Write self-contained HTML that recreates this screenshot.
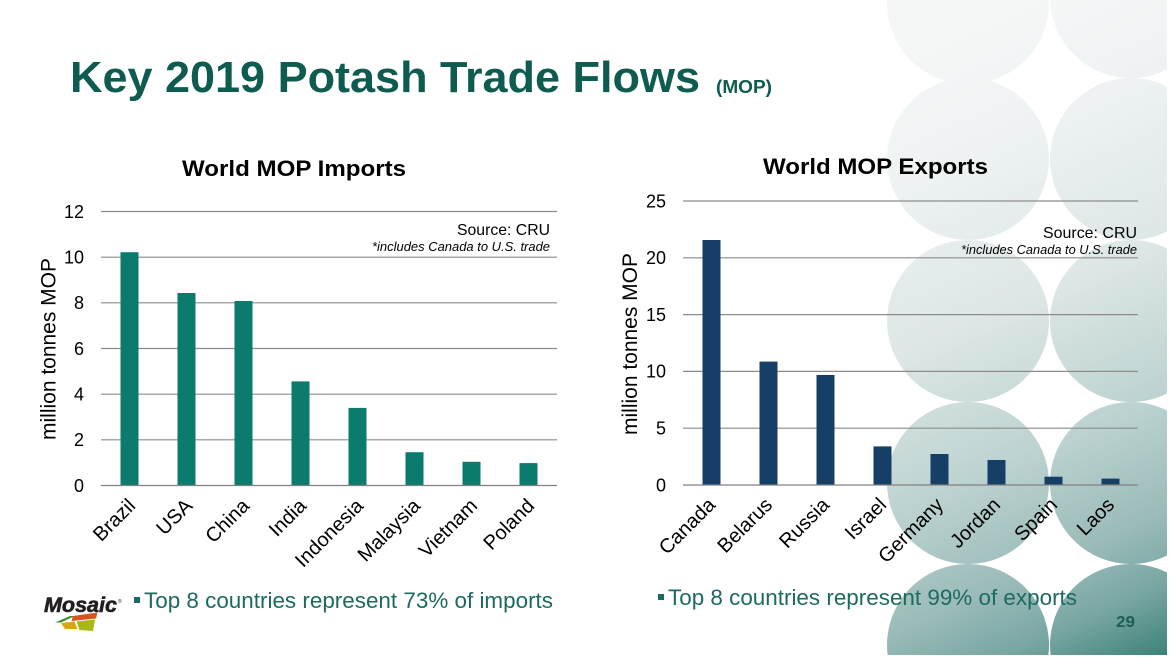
<!DOCTYPE html>
<html>
<head>
<meta charset="utf-8">
<style>
  html,body{margin:0;padding:0;background:#fff;width:1173px;height:661px;overflow:hidden;}
  svg{display:block;}
  text{font-family:"Liberation Sans", Arial, sans-serif;}
</style>
</head>
<body>
<svg width="1173" height="661" viewBox="0 0 1173 661" xmlns="http://www.w3.org/2000/svg">
  <defs>
    <linearGradient id="cg" gradientUnits="userSpaceOnUse" x1="900" y1="60" x2="1167" y2="655">
      <stop offset="0" stop-color="#f5f7f7"/>
      <stop offset="0.18" stop-color="#eef2f2"/>
      <stop offset="0.41" stop-color="#dde7e6"/>
      <stop offset="0.63" stop-color="#bdd3d1"/>
      <stop offset="0.8" stop-color="#9abbb8"/>
      <stop offset="0.9" stop-color="#78a6a1"/>
      <stop offset="1" stop-color="#3c8279"/>
    </linearGradient>
  </defs>

  <rect x="0" y="0" width="1173" height="661" fill="#ffffff"/>

  <!-- background circles (pre-clipped to the slide area) -->
  <g fill="url(#cg)">
    <path d="M 887.06 0 A 81 81 0 1 0 1048.94 0 Z"/>
    <path d="M 1050.06 0 A 81 81 0 0 0 1167 69.56 L 1167 0 Z"/>
    <circle cx="968" cy="159" r="81"/>
    <path d="M 1167 86.44 A 81 81 0 1 0 1167 231.56 Z"/>
    <circle cx="968" cy="321" r="81"/>
    <path d="M 1167 248.44 A 81 81 0 1 0 1167 393.56 Z"/>
    <circle cx="968" cy="483" r="81"/>
    <path d="M 1167 410.44 A 81 81 0 1 0 1167 555.56 Z"/>
    <path d="M 887.62 655 A 81 81 0 1 1 1048.38 655 Z"/>
    <path d="M 1167 572.44 A 81 81 0 0 0 1050.62 655 L 1167 655 Z"/>
  </g>

  <!-- Title -->
  <text x="70" y="92" font-size="44" font-weight="bold" fill="#0e5b4f" textLength="630" lengthAdjust="spacingAndGlyphs">Key 2019 Potash Trade Flows</text>
  <text x="716" y="93" font-size="18" font-weight="bold" fill="#0e5b4f" textLength="56" lengthAdjust="spacingAndGlyphs">(MOP)</text>

  <!-- ============ LEFT CHART ============ -->
  <text x="182" y="176" font-size="22" font-weight="bold" fill="#000" textLength="224" lengthAdjust="spacingAndGlyphs">World MOP Imports</text>

  <g stroke="#8c8c8c" stroke-width="1.2">
    <line x1="101" y1="211.5" x2="557" y2="211.5"/>
    <line x1="101" y1="257.2" x2="557" y2="257.2"/>
    <line x1="101" y1="302.8" x2="557" y2="302.8"/>
    <line x1="101" y1="348.5" x2="557" y2="348.5"/>
    <line x1="101" y1="394.2" x2="557" y2="394.2"/>
    <line x1="101" y1="439.8" x2="557" y2="439.8"/>
  </g>

  <g fill="#0b7b6e">
    <rect x="120.5" y="252.2" width="18" height="233.3"/>
    <rect x="177.5" y="293.0" width="18" height="192.5"/>
    <rect x="234.5" y="301.0" width="18" height="184.5"/>
    <rect x="291.5" y="381.4" width="18" height="104.1"/>
    <rect x="348.5" y="407.9" width="18" height="77.6"/>
    <rect x="405.5" y="452.2" width="18" height="33.3"/>
    <rect x="462.5" y="461.8" width="18" height="23.7"/>
    <rect x="519.5" y="463.1" width="18" height="22.4"/>
  </g>
  <line x1="101" y1="485.5" x2="557" y2="485.5" stroke="#808080" stroke-width="1.3"/>

  <g font-size="18" fill="#000" text-anchor="end">
    <text x="84" y="217.8">12</text>
    <text x="84" y="263.5">10</text>
    <text x="84" y="309.1">8</text>
    <text x="84" y="354.8">6</text>
    <text x="84" y="400.5">4</text>
    <text x="84" y="446.1">2</text>
    <text x="84" y="491.8">0</text>
  </g>

  <text transform="translate(55.5,349) rotate(-90)" font-size="21" text-anchor="middle" fill="#000" textLength="182" lengthAdjust="spacingAndGlyphs">million tonnes MOP</text>

  <text x="550" y="235" font-size="16" text-anchor="end" fill="#000" textLength="93" lengthAdjust="spacingAndGlyphs">Source: CRU</text>
  <text x="550" y="251" font-size="13" font-style="italic" text-anchor="end" fill="#000" textLength="178" lengthAdjust="spacingAndGlyphs">*includes Canada to U.S. trade</text>

  <g font-size="20" fill="#000" text-anchor="end">
    <text transform="translate(136.5,507) rotate(-45)">Brazil</text>
    <text transform="translate(193.5,507) rotate(-45)">USA</text>
    <text transform="translate(250.5,507) rotate(-45)">China</text>
    <text transform="translate(307.5,507) rotate(-45)">India</text>
    <text transform="translate(364.5,507) rotate(-45)">Indonesia</text>
    <text transform="translate(421.5,507) rotate(-45)">Malaysia</text>
    <text transform="translate(478.5,507) rotate(-45)">Vietnam</text>
    <text transform="translate(535.5,507) rotate(-45)">Poland</text>
  </g>

  <!-- ============ RIGHT CHART ============ -->
  <text x="763" y="174" font-size="22" font-weight="bold" fill="#000" textLength="225" lengthAdjust="spacingAndGlyphs">World MOP Exports</text>

  <g stroke="#8c8c8c" stroke-width="1.2">
    <line x1="683" y1="201" x2="1138" y2="201"/>
    <line x1="683" y1="257.8" x2="1138" y2="257.8"/>
    <line x1="683" y1="314.6" x2="1138" y2="314.6"/>
    <line x1="683" y1="371.4" x2="1138" y2="371.4"/>
    <line x1="683" y1="428.2" x2="1138" y2="428.2"/>
  </g>

  <g fill="#153f66">
    <rect x="702.5" y="240.0" width="18" height="245.0"/>
    <rect x="759.5" y="361.6" width="18" height="123.4"/>
    <rect x="816.5" y="375.0" width="18" height="110.0"/>
    <rect x="873.5" y="446.4" width="18" height="38.6"/>
    <rect x="930.5" y="454.0" width="18" height="31.0"/>
    <rect x="987.5" y="460.0" width="18" height="25.0"/>
    <rect x="1044.5" y="476.7" width="18" height="8.3"/>
    <rect x="1101.5" y="478.6" width="18" height="6.4"/>
  </g>
  <line x1="683" y1="485" x2="1138" y2="485" stroke="#808080" stroke-width="1.3"/>

  <g font-size="18" fill="#000" text-anchor="end">
    <text x="666" y="207.3">25</text>
    <text x="666" y="264.1">20</text>
    <text x="666" y="320.9">15</text>
    <text x="666" y="377.7">10</text>
    <text x="666" y="434.5">5</text>
    <text x="666" y="491.3">0</text>
  </g>

  <text transform="translate(637,344) rotate(-90)" font-size="21" text-anchor="middle" fill="#000" textLength="182" lengthAdjust="spacingAndGlyphs">million tonnes MOP</text>

  <text x="1137" y="238" font-size="16" text-anchor="end" fill="#000" textLength="94" lengthAdjust="spacingAndGlyphs">Source: CRU</text>
  <text x="1137" y="254" font-size="13" font-style="italic" text-anchor="end" fill="#000" textLength="176" lengthAdjust="spacingAndGlyphs">*includes Canada to U.S. trade</text>

  <g font-size="20" fill="#000" text-anchor="end">
    <text transform="translate(716.5,506) rotate(-45)">Canada</text>
    <text transform="translate(773.5,506) rotate(-45)">Belarus</text>
    <text transform="translate(830.5,506) rotate(-45)">Russia</text>
    <text transform="translate(887.5,506) rotate(-45)">Israel</text>
    <text transform="translate(944.5,506) rotate(-45)">Germany</text>
    <text transform="translate(1001.5,506) rotate(-45)">Jordan</text>
    <text transform="translate(1058.5,506) rotate(-45)">Spain</text>
    <text transform="translate(1115.5,506) rotate(-45)">Laos</text>
  </g>

  <!-- ============ Bottom bullets ============ -->
  <rect x="134" y="597" width="6" height="6" fill="#1d6a60"/>
  <text x="144" y="608" font-size="22" fill="#1d6a60" textLength="409" lengthAdjust="spacingAndGlyphs">Top 8 countries represent 73% of imports</text>

  <rect x="658" y="594" width="6" height="6" fill="#1d6a60"/>
  <text x="668" y="605" font-size="22" fill="#1d6a60" textLength="409" lengthAdjust="spacingAndGlyphs">Top 8 countries represent 99% of exports</text>

  <text x="1116" y="627" font-size="16" font-weight="bold" fill="#1d5e55" textLength="19" lengthAdjust="spacingAndGlyphs">29</text>

  <!-- Mosaic logo -->
  <text x="44" y="612" font-size="21" font-weight="bold" font-style="italic" fill="#231f20" stroke="#231f20" stroke-width="0.6" textLength="73" lengthAdjust="spacingAndGlyphs">Mosaic</text>
  <text x="118" y="603" font-size="5" fill="#231f20">®</text>
  <polygon points="55,622.5 70,616 75,616 61,622.5" fill="#3f8f3a"/>
  <polygon points="73,616 97.5,612.5 96,618.5 71.5,621" fill="#d9531e"/>
  <polygon points="61,623 74.5,621.5 77.5,629 65,629" fill="#d6a70f"/>
  <polygon points="76.5,621.5 95,619.5 93,631 79.5,630" fill="#a8b914"/>
</svg>
</body>
</html>
